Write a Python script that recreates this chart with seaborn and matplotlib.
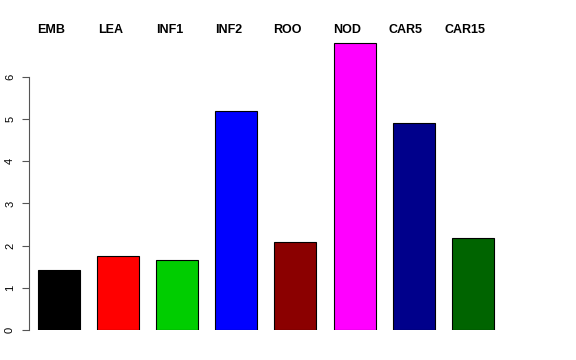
import matplotlib
matplotlib.use("Agg")
import matplotlib.pyplot as plt
import seaborn as sns
import pandas as pd

# values
tissues = ["EMB", "LEA", "INF1", "INF2", "ROO", "NOD", "CAR5", "CAR15"]
values = [1.42, 1.75, 1.67, 5.19, 2.09, 6.81, 4.90, 2.18]
colors = ["#000000", "#FF0000", "#00CD00", "#0000FF", "#8B0000", "#FF00FF", "#00008B", "#006400"]
y_ticks = [0, 1, 2, 3, 4, 5, 6]

df = pd.DataFrame({"tissue": tissues, "value": values})

sns.set_style("white")
plt.rcParams["font.family"] = ["Liberation Sans", "DejaVu Sans"]
plt.rcParams["text.color"] = "black"
plt.rcParams["ytick.color"] = "black"

fig = plt.figure(figsize=(5.76, 3.6), dpi=100)
ax = fig.add_axes([29 / 576, 30 / 360, (510 - 29) / 576, (330 - 39) / 360])

sns.barplot(data=df, x="tissue", y="value", hue="tissue", palette=colors,
            saturation=1, width=0.71, edgecolor="black", linewidth=0.8,
            legend=False, ax=ax)

ax.set_xlim(-0.508, 7.63)
ax.set_ylim(0, 6.9)
ax.set_xlabel("")
ax.set_ylabel("")
ax.set_xticks([])
ax.set_yticks(y_ticks)
ax.set_yticklabels([str(t) for t in y_ticks], rotation=90, va="center",
                   fontsize=8, color="black")
ax.tick_params(axis="y", left=True, length=5, width=0.8, color="#555555", pad=5)

for side in ["top", "right", "bottom"]:
    ax.spines[side].set_visible(False)
ax.spines["left"].set_bounds(0, 6)
ax.spines["left"].set_color("#555555")
ax.spines["left"].set_linewidth(0.8)

# tissue names along the top
for i, name in enumerate(tissues):
    ax.text(i - 0.13, 7.11, name, ha="center", va="center", color="black",
            fontsize=9, fontweight="bold", clip_on=False)

fig.savefig("out.png", dpi=100)
